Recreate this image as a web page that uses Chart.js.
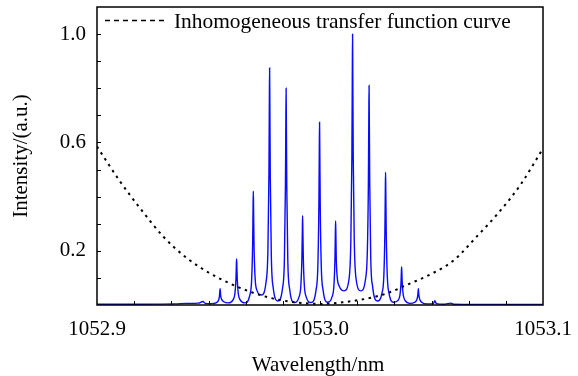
<!DOCTYPE html>
<html lang="en">
  <head>
    <meta charset="UTF-8" />
    <title>Inhomogeneous transfer function</title>
    <style>
      body {
        margin: 0;
        padding: 0;
        background-color: #fff;
      }
      #wrap {
        width: 578px;
        height: 376px;
      }
    </style>
  </head>
  <body>
    <div id="wrap">
      <canvas id="specChart" width="578" height="376"></canvas>
    </div>

    <script src="https://cdn.jsdelivr.net/npm/chart.js"></script>
    <script>
      // Spectrum (blue) - wavelength in nm, intensity in a.u.
      const specWl = [
        1052.9, 1052.92, 1052.935, 1052.94, 1052.9455, 1052.9475, 1052.9485, 1052.951,
        1052.9536, 1052.95444, 1052.9549, 1052.95509, 1052.9552, 1052.95531, 1052.9555, 1052.95596, 1052.9568,
        1052.9589,
        1052.961, 1052.96184, 1052.9623, 1052.96249, 1052.9626, 1052.96271, 1052.9629, 1052.96336, 1052.9642,
        1052.96635,
        1052.9685, 1052.96934, 1052.9698, 1052.96999, 1052.9701, 1052.97021, 1052.9704, 1052.97086, 1052.9717,
        1052.97375,
        1052.9758, 1052.97664, 1052.9771, 1052.97729, 1052.9774, 1052.97751, 1052.9777, 1052.97816, 1052.979,
        1052.9811,
        1052.9832, 1052.98404, 1052.9845, 1052.98469, 1052.9848, 1052.98491, 1052.9851, 1052.98556, 1052.9864,
        1052.9885,
        1052.9906, 1052.99144, 1052.9919, 1052.99209, 1052.9922, 1052.99231, 1052.9925, 1052.99296, 1052.9938,
        1052.996,
        1052.9982, 1052.99904, 1052.9995, 1052.99969, 1052.9998, 1052.99991, 1053.0001, 1053.00056, 1053.0014,
        1053.0034,
        1053.0054, 1053.00624, 1053.0067, 1053.00689, 1053.007, 1053.00711, 1053.0073, 1053.00776, 1053.0086,
        1053.0108,
        1053.013, 1053.01384, 1053.0143, 1053.01449, 1053.0146, 1053.01471, 1053.0149, 1053.01536, 1053.0162,
        1053.0183,
        1053.0204, 1053.02124, 1053.0217, 1053.02189, 1053.022, 1053.02211, 1053.0223, 1053.02276, 1053.0236,
        1053.0257,
        1053.0278, 1053.02864, 1053.0291, 1053.02929, 1053.0294, 1053.02951, 1053.0297, 1053.03016, 1053.031,
        1053.033,
        1053.035, 1053.03584, 1053.0363, 1053.03649, 1053.0366, 1053.03671, 1053.0369, 1053.03736, 1053.0382,
        1053.04035,
        1053.0425, 1053.04334, 1053.0438, 1053.04399, 1053.0441, 1053.04421, 1053.0444, 1053.04486, 1053.0457,
        1053.048, 1053.0508, 1053.0515, 1053.0522, 1053.0555, 1053.0588, 1053.0598, 1053.07, 1053.1
      ];
      const specInt = [
        0.003, 0.003, 0.004, 0.006, 0.007, 0.013, 0.006, 0.005,
        0.009, 0.017, 0.032, 0.051, 0.06, 0.051, 0.032, 0.02, 0.012,
        0.008,
        0.019, 0.042, 0.094, 0.147, 0.17, 0.147, 0.094, 0.042, 0.019,
        0.008,
        0.035, 0.092, 0.23, 0.36, 0.42, 0.36, 0.23, 0.105, 0.055,
        0.037,
        0.085, 0.2, 0.48, 0.75, 0.875, 0.75, 0.48, 0.185, 0.065,
        0.015,
        0.062, 0.17, 0.44, 0.68, 0.8, 0.68, 0.44, 0.165, 0.058,
        0.009,
        0.03, 0.075, 0.18, 0.28, 0.33, 0.28, 0.18, 0.075, 0.03,
        0.009,
        0.054, 0.145, 0.37, 0.575, 0.675, 0.575, 0.37, 0.145, 0.054,
        0.01,
        0.03, 0.072, 0.17, 0.265, 0.31, 0.265, 0.17, 0.1, 0.07,
        0.052,
        0.095, 0.24, 0.55, 0.85, 1.0, 0.85, 0.55, 0.24, 0.095,
        0.052,
        0.095, 0.2, 0.45, 0.69, 0.81, 0.69, 0.45, 0.172, 0.068,
        0.015,
        0.044, 0.11, 0.27, 0.42, 0.49, 0.42, 0.27, 0.11, 0.042,
        0.01,
        0.017, 0.036, 0.077, 0.12, 0.14, 0.12, 0.077, 0.036, 0.016,
        0.006,
        0.01, 0.018, 0.033, 0.05, 0.06, 0.05, 0.033, 0.018, 0.009,
        0.004, 0.005, 0.016, 0.005, 0.003, 0.007, 0.003, 0.002, 0.002
      ];

      // Inhomogeneous transfer function curve (dotted)
      const curveWl = [
        1052.9, 1052.91, 1052.92, 1052.93, 1052.94, 1052.95, 1052.96, 1052.97, 1052.98, 1052.99, 1053.0,
        1053.01, 1053.02, 1053.03, 1053.04, 1053.05, 1053.06, 1053.07, 1053.08, 1053.09, 1053.1
      ];
      const curveInt = [
        0.585, 0.46, 0.35, 0.25, 0.175, 0.12, 0.078, 0.045, 0.022, 0.009, 0.004,
        0.01, 0.022, 0.043, 0.078, 0.115, 0.165, 0.25, 0.34, 0.445, 0.578
      ];

      // Axis ticks
      const xLabelValues = [1052.9, 1053.0, 1053.1];
      const xLabelText = ["1052.9", "1053.0", "1053.1"];
      const xMinorTicks = [
        1052.91667, 1052.93333, 1052.95, 1052.96667, 1052.98333, 1053.0,
        1053.01667, 1053.03333, 1053.05, 1053.06667, 1053.08333
      ];
      const yLabelValues = [0.2, 0.6, 1.0];
      const yLabelText = ["0.2", "0.6", "1.0"];
      const yMinorTicks = [0.1, 0.2, 0.3, 0.4, 0.5, 0.6, 0.7, 0.8, 0.9, 1.0];

      const legendText = "Inhomogeneous transfer function curve";
      const FONT = '21px "Liberation Serif", "Times New Roman", serif';

      const toPoints = (xs, ys) => xs.map((x, i) => ({ x: x, y: ys[i] }));

      // frame, inside ticks, labels, titles and legend
      const decorPlugin = {
        id: "decor",
        afterDraw(chart) {
          const ctx = chart.ctx;
          const area = chart.chartArea;
          const xs = chart.scales.x;
          const ys = chart.scales.y;
          ctx.save();

          ctx.strokeStyle = "#000";
          ctx.lineWidth = 1;
          xMinorTicks.forEach((v) => {
            const px = Math.round(xs.getPixelForValue(v)) + 0.5;
            ctx.beginPath();
            ctx.moveTo(px, area.bottom);
            ctx.lineTo(px, area.bottom - 4);
            ctx.stroke();
          });
          yMinorTicks.forEach((v) => {
            const py = Math.round(ys.getPixelForValue(v)) + 0.5;
            ctx.beginPath();
            ctx.moveTo(area.left, py);
            ctx.lineTo(area.left + 4, py);
            ctx.stroke();
          });

          ctx.lineWidth = 1.5;
          ctx.strokeRect(area.left, area.top, area.right - area.left, area.bottom - area.top);

          ctx.fillStyle = "#000";
          ctx.font = FONT;
          ctx.textAlign = "center";
          ctx.textBaseline = "alphabetic";
          xLabelValues.forEach((v, i) => {
            ctx.fillText(xLabelText[i], xs.getPixelForValue(v), 335);
          });
          ctx.textAlign = "right";
          ctx.textBaseline = "middle";
          yLabelValues.forEach((v, i) => {
            ctx.fillText(yLabelText[i], 86, ys.getPixelForValue(v));
          });

          ctx.textAlign = "center";
          ctx.textBaseline = "alphabetic";
          ctx.fillText("Wavelength/nm", 318, 371);
          ctx.save();
          ctx.translate(27, 156);
          ctx.rotate(-Math.PI / 2);
          ctx.fillText("Intensity/(a.u.)", 0, 0);
          ctx.restore();

          // legend
          ctx.setLineDash([5, 4]);
          ctx.lineWidth = 1.3;
          ctx.beginPath();
          ctx.moveTo(105, 20.5);
          ctx.lineTo(168, 20.5);
          ctx.stroke();
          ctx.setLineDash([]);
          ctx.textAlign = "left";
          ctx.font = '21.4px "Liberation Serif", "Times New Roman", serif';
          ctx.fillText(legendText, 174, 28);

          ctx.restore();
        },
      };

      const specChart = new Chart(document.getElementById("specChart"), {
        type: "line",
        data: {
          datasets: [
            {
              label: legendText,
              data: toPoints(curveWl, curveInt),
              borderColor: "#000",
              borderWidth: 2,
              borderDash: [2.5, 4.5],
              pointRadius: 0,
              cubicInterpolationMode: "monotone",
              fill: false,
            },
            {
              label: "Spectrum",
              data: toPoints(specWl, specInt),
              borderColor: "#0a0aff",
              borderWidth: 1.4,
              pointRadius: 0,
              cubicInterpolationMode: "monotone",
              fill: false,
            },
          ],
        },
        options: {
          responsive: false,
          animation: false,
          layout: { padding: { left: 97, top: 7, right: 35, bottom: 71 } },
          plugins: {
            legend: { display: false },
            tooltip: { enabled: false },
          },
          scales: {
            x: { type: "linear", min: 1052.9, max: 1053.1, display: false },
            y: { min: 0, max: 1.1, display: false },
          },
        },
        plugins: [decorPlugin],
      });
    </script>
  </body>
</html>
